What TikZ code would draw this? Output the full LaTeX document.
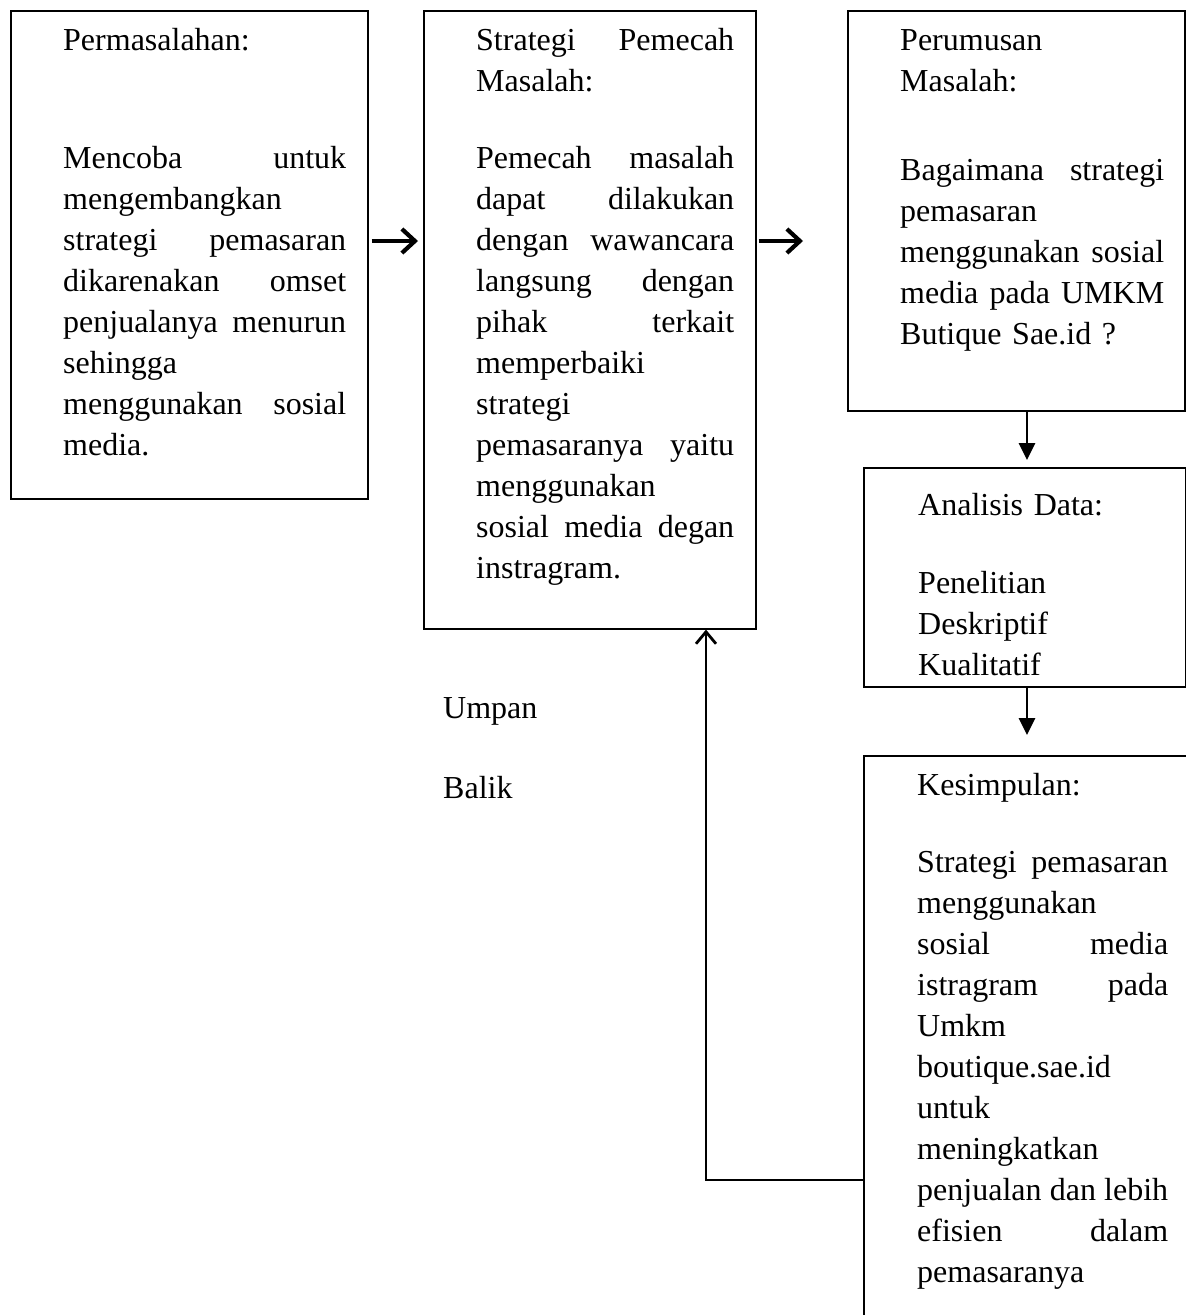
\documentclass[tikz,border=0pt]{standalone}
\usepackage{fontspec}
\setmainfont{Liberation Serif}
\usetikzlibrary{arrows.meta}
\begin{document}
\begin{tikzpicture}[x=1pt,y=-1pt,
  box/.style={draw, line width=1.6pt, inner sep=0pt, anchor=north west},
  txt/.style={inner sep=0pt, anchor=base west, align=left, font=\fontsize{32}{41}\selectfont},
  harrow/.style={line width=4.2pt, -{Straight Barb[length=13pt,width=24pt,line width=4.2pt 0]}},
  varrow/.style={line width=2.8pt, -{Triangle[length=17pt,width=16pt]}},
  farrow/.style={line width=2.6pt, -{Straight Barb[length=12pt,width=20pt,line width=2.8pt 0]}}
]
\clip (0,0) rectangle (1186,1315);
\fill[white] (0,0) rectangle (1186,1315);
% boxes
\node[box, minimum width=357pt, minimum height=488pt] (b1) at (10,10) {};
\node[box, minimum width=332pt, minimum height=618pt] (b2) at (423,10) {};
\node[box, minimum width=337pt, minimum height=400pt] (b3) at (847,10) {};
\node[box, minimum width=322pt, minimum height=219pt] (b4) at (863,467) {};
\node[box, minimum width=360pt, minimum height=620pt] (b5) at (863,755) {};
% texts
\node[txt, text width=283pt] (t1h) at (63,50) {Permasalahan:};
\node[txt, text width=283pt] (t1) at (63,168) {Mencoba\hfill untuk\\
mengembangkan\\
strategi\hfill pemasaran\\
dikarenakan\hfill omset\\
penjualanya\hfill menurun\\
sehingga\\
menggunakan\hfill sosial\\
media.};
\node[txt, text width=258pt] (t2h) at (476,50) {Strategi\hfill Pemecah\\Masalah:};
\node[txt, text width=258pt] (t2) at (476,168) {Pemecah\hfill masalah\\
dapat\hfill dilakukan\\
dengan\hfill wawancara\\
langsung\hfill dengan\\
pihak\hfill terkait\\
memperbaiki\\
strategi\\
pemasaranya\hfill yaitu\\
menggunakan\\
sosial\hfill media\hfill degan\\
instragram.};
\node[txt, text width=264pt] (t3h) at (900,50) {Perumusan\\Masalah:};
\node[txt, text width=264pt] (t3) at (900,180) {Bagaimana\hfill strategi\\
pemasaran\\
menggunakan\hfill sosial\\
media\hfill pada\hfill UMKM\\
Butique Sae.id ?};
\node[txt, text width=250pt] (t4h) at (918,515) {Analisis Data:};
\node[txt, text width=250pt] (t4) at (918,593) {Penelitian\\Deskriptif\\Kualitatif};
\node[txt, text width=251pt] (t5h) at (917,795) {Kesimpulan:};
\node[txt, text width=251pt] (t5) at (917,872) {Strategi\hfill pemasaran\\
menggunakan\\
sosial\hfill media\\
istragram\hfill pada\\
Umkm\\
boutique.sae.id\\
untuk\\
meningkatkan\\
penjualan\hfill dan\hfill lebih\\
efisien\hfill dalam\\
pemasaranya};
\node[txt] (u1) at (443,718) {Umpan};
\node[txt] (u2) at (443,798) {Balik};
% connectors
\coordinate (yA) at (0,241);
\coordinate (xD) at (1027,0);
\coordinate (fb) at (706,1180);
\draw[harrow] ([xshift=3pt]b1.east |- yA) -- ([xshift=-5pt]b2.west |- yA);
\draw[harrow] ([xshift=2pt]b2.east |- yA) -- ([xshift=-44pt]b3.west |- yA);
\draw[varrow] (b3.south -| xD) -- ([yshift=7pt]b4.north -| xD);
\draw[varrow] (b4.south -| xD) -- ([yshift=20pt]b5.north -| xD);
\draw[farrow] (b5.west |- fb) -- (fb) -- (b2.south -| fb);
\end{tikzpicture}
\end{document}
